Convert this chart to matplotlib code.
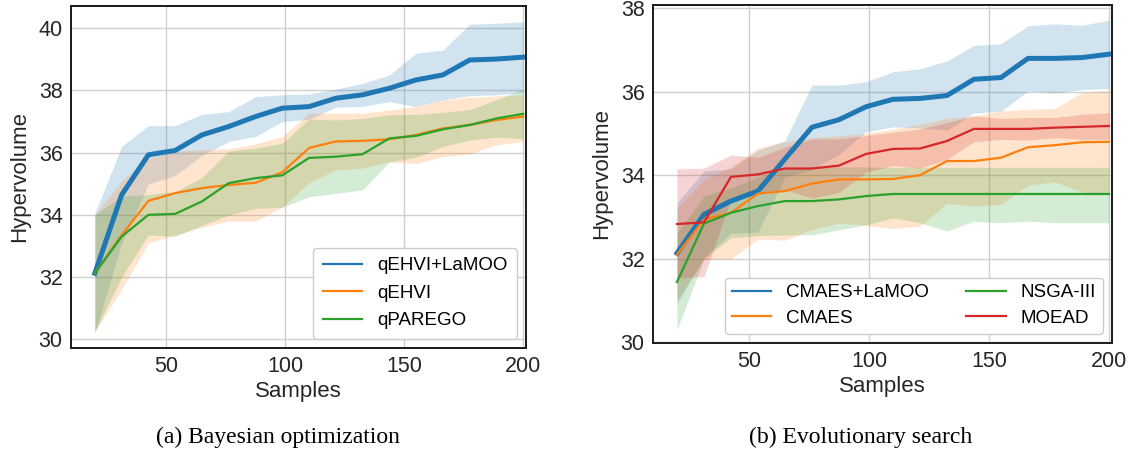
import matplotlib
matplotlib.use('Agg')
import matplotlib.pyplot as plt
from matplotlib.lines import Line2D

# sample counts (shared by both panels)
samples = [20, 31.25, 42.5, 53.75, 65, 76.25, 87.5, 98.75, 110, 121.25, 132.5,
           143.75, 155, 166.25, 177.5, 188.75, 200]

# (a) Bayesian optimization
qehvi_lamoo = [32.12, 34.64, 35.93, 36.07, 36.57, 36.84, 37.16, 37.43, 37.48, 37.75, 37.86,
               38.07, 38.34, 38.50, 38.98, 39.01, 39.07]
qehvi_lamoo_hi = [34.05, 36.20, 36.87, 36.87, 37.23, 37.32, 37.80, 37.86, 37.89, 38.04, 38.23,
                  38.50, 39.20, 39.30, 40.13, 40.16, 40.21]
qehvi_lamoo_lo = [30.20, 33.08, 34.99, 35.27, 35.91, 36.36, 36.52, 37.00, 37.07, 37.46, 37.49,
                  37.64, 37.48, 37.70, 37.83, 37.86, 37.93]

qehvi = [32.12, 33.35, 34.45, 34.70, 34.86, 34.96, 35.03, 35.37, 36.15, 36.36, 36.38,
         36.43, 36.57, 36.78, 36.89, 37.05, 37.16]
qehvi_hi = [34.00, 35.10, 35.80, 36.05, 36.10, 36.12, 36.28, 36.52, 37.27, 37.27, 37.27,
            37.37, 37.48, 37.70, 37.78, 37.82, 37.86]
qehvi_lo = [30.25, 31.60, 33.10, 33.35, 33.60, 33.80, 33.80, 34.25, 35.03, 35.45, 35.50,
            35.70, 35.65, 35.87, 35.96, 36.25, 36.36]

qparego = [32.12, 33.30, 34.00, 34.03, 34.43, 35.02, 35.18, 35.27, 35.83, 35.87, 35.95,
           36.46, 36.54, 36.75, 36.89, 37.10, 37.25]
qparego_hi = [34.00, 34.60, 34.65, 34.75, 35.20, 36.05, 36.15, 36.30, 37.08, 37.05, 37.10,
              37.22, 37.23, 37.30, 37.38, 37.70, 38.05]
qparego_lo = [30.25, 32.00, 33.35, 33.31, 33.66, 33.99, 34.21, 34.24, 34.58, 34.69, 34.80,
              35.70, 35.85, 36.20, 36.40, 36.50, 36.45]

# (b) Evolutionary search
cmaes_lamoo = [32.13, 33.06, 33.38, 33.62, 34.39, 35.15, 35.33, 35.64, 35.82, 35.84, 35.91,
               36.30, 36.34, 36.80, 36.80, 36.82, 36.90]
cmaes_lamoo_hi = [33.34, 34.10, 34.15, 34.60, 34.83, 36.16, 36.16, 36.24, 36.48, 36.55, 36.74,
                  37.11, 37.15, 37.58, 37.63, 37.59, 37.72]
cmaes_lamoo_lo = [30.92, 32.02, 32.61, 32.64, 33.95, 34.14, 34.50, 35.04, 35.16, 35.13, 35.08,
                  35.49, 35.53, 36.02, 35.97, 36.05, 36.08]

cmaes = [32.10, 32.94, 33.10, 33.56, 33.62, 33.80, 33.90, 33.90, 33.91, 34.00, 34.34,
         34.34, 34.42, 34.67, 34.72, 34.79, 34.80]
cmaes_hi = [33.20, 33.90, 34.20, 34.65, 34.80, 34.90, 34.95, 35.00, 35.10, 35.22, 35.36,
            35.42, 35.54, 35.58, 35.60, 35.98, 36.03]
cmaes_lo = [31.00, 31.98, 32.00, 32.47, 32.44, 32.70, 32.85, 32.80, 32.72, 32.78, 33.32,
            33.26, 33.30, 33.76, 33.84, 33.60, 33.55]

nsga3 = [31.44, 32.84, 33.10, 33.26, 33.38, 33.38, 33.42, 33.50, 33.55, 33.55, 33.55,
         33.55, 33.55, 33.55, 33.55, 33.55, 33.55]
nsga3_hi = [32.60, 33.50, 33.70, 33.95, 34.15, 34.20, 34.20, 34.20, 34.19, 34.19, 34.19,
            34.19, 34.19, 34.19, 34.19, 34.19, 34.19]
nsga3_lo = [30.29, 32.00, 32.50, 32.55, 32.57, 32.57, 32.69, 32.81, 32.98, 32.86, 32.66,
            32.90, 32.86, 32.90, 32.86, 32.86, 32.86]

moead = [32.83, 32.87, 33.96, 34.02, 34.16, 34.16, 34.23, 34.51, 34.63, 34.64, 34.82,
         35.11, 35.11, 35.11, 35.14, 35.16, 35.18]
moead_hi = [34.15, 34.17, 34.48, 34.43, 34.67, 34.87, 34.87, 34.95, 35.03, 35.11, 35.26,
            35.42, 35.36, 35.38, 35.38, 35.46, 35.50]
moead_lo = [31.53, 31.57, 33.44, 33.61, 33.65, 33.45, 33.59, 34.07, 34.23, 34.17, 34.38,
            34.80, 34.86, 34.84, 34.90, 34.86, 34.86]

plt.rcParams['font.family'] = ['Liberation Sans', 'DejaVu Sans']

BLUE, ORANGE, GREEN, RED = '#1f77b4', '#ff7f0e', '#2ca02c', '#d62728'


def setup(ax, ylim, yticks):
    ax.set_xlim(10, 201.25)
    ax.set_ylim(*ylim)
    ax.set_xticks([50, 100, 150, 200])
    ax.set_yticks(yticks)
    ax.grid(True, color='#d0d0d0', linewidth=1.0)
    ax.set_axisbelow(True)
    ax.tick_params(length=0, labelsize=15.5, colors='#262626', pad=6)
    for s in ax.spines.values():
        s.set_color('#1a1a1a')
        s.set_linewidth(1.4)
    ax.set_xlabel('Samples', fontsize=16, color='#262626', labelpad=3)
    ax.set_ylabel('Hypervolume', fontsize=16, color='#262626', labelpad=6)


def band(ax, mean, lo, hi, color, lw):
    ax.fill_between(samples, lo, hi, color=color, alpha=0.2, linewidth=0)
    ax.plot(samples, mean, color=color, linewidth=lw)


fig = plt.figure(figsize=(11.35, 4.53), dpi=100)

# left panel
ax1 = fig.add_axes([0.0626, 0.232, 0.401, 0.755])
band(ax1, qehvi_lamoo, qehvi_lamoo_lo, qehvi_lamoo_hi, BLUE, 3.6)
band(ax1, qehvi, qehvi_lo, qehvi_hi, ORANGE, 1.6)
band(ax1, qparego, qparego_lo, qparego_hi, GREEN, 1.6)
setup(ax1, (29.72, 40.72), [30, 32, 34, 36, 38, 40])
h1 = [Line2D([], [], color=c, lw=1.6) for c in (BLUE, ORANGE, GREEN)]
ax1.legend(h1, ['qEHVI+LaMOO', 'qEHVI', 'qPAREGO'], loc='lower right',
           fontsize=13.5, frameon=True, edgecolor='#cccccc', framealpha=1,
           borderpad=0.5, labelspacing=0.55, handlelength=2.1, handletextpad=0.8,
           borderaxespad=0.5)

# right panel
ax2 = fig.add_axes([0.5753, 0.243, 0.4044, 0.746])
band(ax2, cmaes_lamoo, cmaes_lamoo_lo, cmaes_lamoo_hi, BLUE, 3.6)
band(ax2, cmaes, cmaes_lo, cmaes_hi, ORANGE, 1.6)
band(ax2, nsga3, nsga3_lo, nsga3_hi, GREEN, 1.6)
band(ax2, moead, moead_lo, moead_hi, RED, 1.6)
setup(ax2, (29.98, 38.08), [30, 32, 34, 36, 38])
h2 = [Line2D([], [], color=c, lw=1.6) for c in (BLUE, ORANGE, GREEN, RED)]
ax2.legend(h2, ['CMAES+LaMOO', 'CMAES', 'NSGA-III', 'MOEAD'], loc='lower right', ncol=2,
           fontsize=13.5, frameon=True, edgecolor='#cccccc', framealpha=1,
           borderpad=0.35, labelspacing=0.45, handlelength=2.1, handletextpad=0.8,
           columnspacing=2.0, borderaxespad=0.5)

fig.text(0.2445, 0.022, '(a) Bayesian optimization', ha='center', va='baseline',
         fontsize=17, family='Liberation Serif', color='black')
fig.text(0.758, 0.022, '(b) Evolutionary search', ha='center', va='baseline',
         fontsize=17, family='Liberation Serif', color='black')

fig.savefig('out.png', dpi=100)
